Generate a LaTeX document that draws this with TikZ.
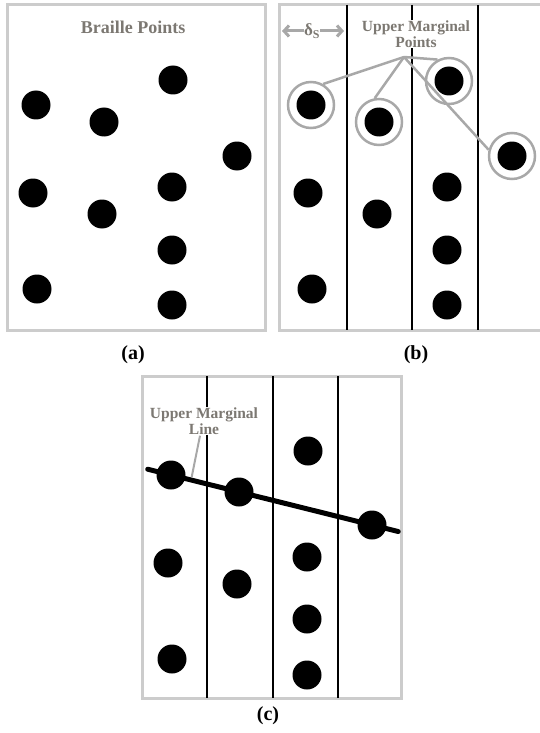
\documentclass[tikz,border=0pt]{standalone}
\usepackage{fontspec}
\setmainfont{Liberation Serif}
\usetikzlibrary{arrows.meta,calc}
\definecolor{framegray}{RGB}{204,204,204}
\definecolor{lblgray}{RGB}{124,120,114}
\definecolor{leadgray}{RGB}{168,168,168}
\tikzset{
  pt/.style={circle,fill=black,inner sep=0pt,minimum size=29pt},
  ring/.style={circle,draw=leadgray,line width=2.5pt,minimum size=46pt,inner sep=0pt},
  frame/.style={draw=framegray,line width=3pt},
  col/.style={line width=2.5pt},
  lbl/.style={text=lblgray,font=\bfseries\fontsize{15.5}{16}\selectfont,align=center,inner sep=1pt},
  lead/.style={draw=leadgray,line width=2.5pt},
  sublbl/.style={font=\bfseries\fontsize{20}{22}\selectfont}
}
\begin{document}
\begin{tikzpicture}[x=1pt,y=-1pt]
\useasboundingbox (0,0) rectangle (539,733);
% (a) the points
\draw[frame] (7,5) rectangle (265,330);
\node[lbl,font=\bfseries\fontsize{18}{20}\selectfont] (title) at (133,27) {Braille Points};
\node[pt] (a1) at (36,105) {};
\node[pt] (a2) at (104,122) {};
\node[pt] (a3) at (173,80) {};
\node[pt] (a4) at (237,156) {};
\node[pt] (a5) at (33,193) {};
\node[pt] (a6) at (102,214) {};
\node[pt] (a7) at (172,187) {};
\node[pt] (a8) at (172,250) {};
\node[pt] (a9) at (37,289) {};
\node[pt] (a10) at (172,305) {};
\node[sublbl] (la) at (133,355) {(a)};
% (b) columns and marginal points
\draw[frame] (545,5) -- (279,5) -- (279,330) -- (545,330);
\draw[col] (347,5) -- (347,330);
\draw[col] (412,5) -- (412,330);
\draw[col] (478,5) -- (478,330);
\node[pt] (b1) at (311,105) {};
\node[pt] (b2) at (379,122) {};
\node[pt] (b3) at (449,81) {};
\node[pt] (b4) at (512,156) {};
\node[pt] (b5) at (308,193) {};
\node[pt] (b6) at (377,214) {};
\node[pt] (b7) at (447,187) {};
\node[pt] (b8) at (447,250) {};
\node[pt] (b9) at (312,289) {};
\node[pt] (b10) at (447,305) {};
\node[ring] (r1) at (b1) {};
\node[ring] (r2) at (b2) {};
\node[ring] (r3) at (b3) {};
\node[ring] (r4) at (b4) {};
\coordinate (dl) at (282,31);
\coordinate (dr) at (344,31);
\draw[lead,line width=3pt,{Straight Barb[length=5pt,width=11pt]}-{Straight Barb[length=5pt,width=11pt]}] (dl) -- (dr);
\node[lbl,fill=white,font=\bfseries\fontsize{17}{18}\selectfont,inner sep=0.5pt] (ds) at (312,31) {δ\textsubscript{S}};
\node[lbl,fill=white] (umpts) at (416,34) {Upper Marginal\\Points};
\coordinate (meet) at (404,57);
\draw[lead] (meet) -- (r1.60);
\draw[lead] (meet) -- (r2.100);
\draw[lead] (meet) -- (r3.118);
\draw[lead] (meet) -- (r4.165);
\node[sublbl] (lb) at (416,355) {(b)};
% (c) fitted line
\draw[frame] (142,376) rectangle (401,698);
\draw[col] (207,376) -- (207,698);
\draw[col] (273,376) -- (273,698);
\draw[col] (338,376) -- (338,698);
\node[pt] (c1) at (171,475) {};
\node[pt] (c2) at (239,492) {};
\node[pt] (c3) at (308,451) {};
\node[pt] (c4) at (372,525) {};
\node[pt] (c5) at (168,563) {};
\node[pt] (c6) at (237,584) {};
\node[pt] (c7) at (307,557) {};
\node[pt] (c8) at (307,619) {};
\node[pt] (c9) at (172,659) {};
\node[pt] (c10) at (307,675) {};
\draw[line width=5pt,line cap=round,shorten <=-24pt,shorten >=-27pt] (c1.center) -- (c4.center);
\node[lbl,fill=white] (uml) at (204,421) {Upper Marginal\\Line};
\coordinate (onl) at ($(c1)!0.1!(c4)$);
\draw[lead,line width=2pt,shorten >=3pt] ([xshift=-4pt]uml.south) -- (onl);
\node[sublbl] (lc) at (268,716) {(c)};
\end{tikzpicture}
\end{document}
